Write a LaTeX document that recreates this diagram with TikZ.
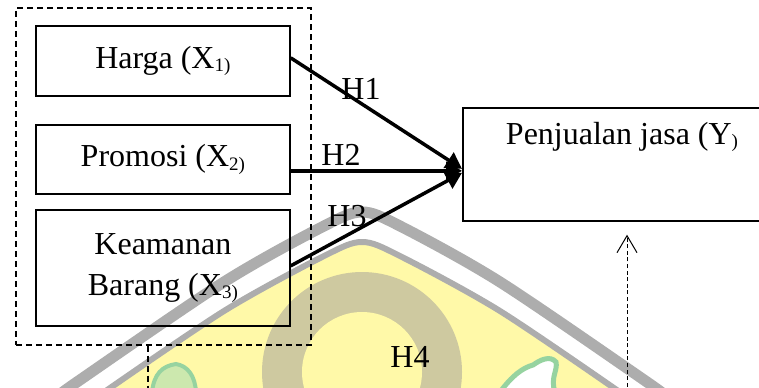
\documentclass[tikz,border=0pt]{standalone}
\usepackage{fontspec}
\setmainfont{Liberation Serif}
\usetikzlibrary{arrows.meta,calc}

\definecolor{wmgray}{HTML}{ADADAD}
\definecolor{wmyellow}{HTML}{FFF9A8}
\definecolor{wmtan}{HTML}{CEC9A0}
\definecolor{wmgreen}{HTML}{96D3A0}
\definecolor{wmgreenlt}{HTML}{CCE8AE}

% lowered, smaller index such as the "1)" in X1)
\newcommand\subidx[1]{\raisebox{-1.8pt}{\fontsize{9.5}{10}\selectfont #1}}

\begin{document}
\begin{tikzpicture}[x=0.5pt,y=-0.5pt,
  font=\fontsize{16}{20.5}\selectfont,
  varbox/.style={draw, line width=0.85pt, anchor=north west, inner sep=0pt,
    minimum width=127pt, align=center},
  groupline/.style={draw, line width=0.85pt, dash pattern=on 3pt off 2pt},
  hyp/.style={line width=1.75pt, -{Triangle[length=8pt,width=9pt]}},
  modline/.style={line width=0.5pt, dash pattern=on 2pt off 1.3pt,
    -{Straight Barb[length=8.5pt,width=10pt,line width=0.5pt]}, shorten >=6.5pt},
  hlabel/.style={inner sep=0pt}]

\useasboundingbox (0,0) rectangle (759,387);
\clip (0,0) rectangle (759,387);

% faint emblem behind the diagram
\fill[wmyellow] plot[smooth] coordinates
  {(100,395) (224,311) (324,256) (362,242) (400,256) (500,311) (624,395)} -- cycle;
\draw[wmgray, line width=3pt] plot[smooth] coordinates
  {(100,395) (224,311) (324,256) (362,242) (400,256) (500,311) (624,395)};
\draw[wmgray, line width=5.5pt] plot[smooth] coordinates
  {(60,395) (77,382) (224,282) (324,226) (362,212) (400,226) (500,282) (647,382) (664,395)};
\fill[wmtan] (362,372) circle[radius=100];
\fill[wmyellow] (362,372) circle[radius=60];
\filldraw[fill=wmgreenlt, draw=wmgreen, line width=2pt]
  (152,392) .. controls (154,374) and (162,366) .. (176,364)
  .. controls (188,366) and (195,376) .. (196,392) -- cycle;
\filldraw[fill=white, draw=wmgreen, line width=2.5pt]
  (500,392) .. controls (512,376) and (522,368) .. (533,365)
  .. controls (540,360) and (550,355) .. (556,362)
  .. controls (558,370) and (550,378) .. (555,392) -- cycle;

% independent variables
\node[groupline, anchor=north west, minimum width=147.5pt, minimum height=168.5pt,
  inner sep=0pt] (grp) at (15,7) {};
\node[varbox, minimum height=35pt] (x1) at (35,25) {Harga (X\subidx{1)}};
\node[varbox, minimum height=34.5pt] (x2) at (35,124) {Promosi (X\subidx{2)}};
\node[varbox, minimum height=58pt] (x3) at (35,209) {Keamanan\\Barang (X\subidx{3)}};

% dependent variable
\node[draw, line width=0.85pt, anchor=north west, inner sep=0pt,
  minimum width=161.5pt, minimum height=56.5pt] (y) at (462,107) {};
\node[inner sep=0pt] (ytext) at (622,137) {Penjualan jasa (Y\subidx{)}};

% hypotheses H1--H3
\coordinate (yin) at ([yshift=-3.25pt]y.west);
\draw[hyp] ([yshift=1.5pt]x1.east) -- ([yshift=1pt]yin);
\draw[hyp] (x2.east |- yin) -- (yin);
\draw[hyp] ([yshift=1pt]x3.east) -- ([yshift=-1pt]yin);
\node[hlabel] (h1) at (361,89) {H1};
\node[hlabel] (h2) at (341,155) {H2};
\node[hlabel] (h3) at (347,216) {H3};

% joint effect H4
\coordinate (m1) at (148,400);
\coordinate (m2) at (627,400);
\draw[groupline] (grp.south -| m1) -- (m1);
\draw[modline] (m2) -- (y.south -| m2);
\node[hlabel] (h4) at (410,357) {H4};
\end{tikzpicture}
\end{document}
